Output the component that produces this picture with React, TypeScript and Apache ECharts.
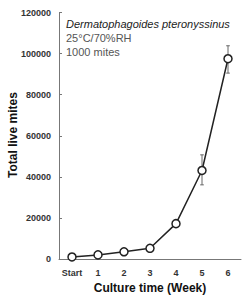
import React, { useEffect, useRef } from "react";
import * as echarts from "echarts";

const categories = ["Start", "1", "2", "3", "4", "5", "6"];
const liveMites = [1000, 2000, 3500, 5200, 17200, 43100, 97500];
const errLow = [null, null, null, null, null, 36100, 90500];
const errHigh = [null, null, null, null, null, 50700, 103800];
const yTicks = [0, 20000, 40000, 60000, 80000, 100000, 120000];
const annotation = ["Dermatophagoides pteronyssinus", "25\u00b0C/70%RH", "1000 mites"];
const yAxisTitle = "Total live mites";
const xAxisTitle = "Culture time (Week)";

const FONT = "'Liberation Sans', Arial, Helvetica, sans-serif";

export default function App() {
  const ref = useRef<HTMLDivElement>(null);
  useEffect(() => {
    if (!ref.current) return;
    const chart = echarts.init(ref.current, undefined, { renderer: "svg" });
    const errData: number[][] = [];
    errLow.forEach((lo, i) => {
      if (lo !== null && errHigh[i] !== null) errData.push([i, lo as number, errHigh[i] as number]);
    });
    chart.setOption({
      animation: false,
      grid: { left: 59, right: 5, top: 12.5, bottom: 41, containLabel: false, outerBoundsMode: "none" },
      textStyle: { fontFamily: FONT },
      xAxis: {
        type: "category",
        data: categories,
        boundaryGap: true,
        name: xAxisTitle,
        nameLocation: "middle",
        nameGap: 20,
        nameTextStyle: { fontFamily: FONT, fontSize: 12, fontWeight: "bold", color: "#111" },
        axisLine: { lineStyle: { color: "#777", width: 1 } },
        axisTick: { inside: true, length: 3, lineStyle: { color: "#777" } },
        axisLabel: { interval: 0, fontFamily: FONT, fontSize: 9, fontWeight: "bold", color: "#333", margin: 9 },
      },
      yAxis: {
        type: "value",
        min: yTicks[0],
        max: yTicks[yTicks.length - 1],
        interval: yTicks[1] - yTicks[0],
        axisLine: { show: true, lineStyle: { color: "#777", width: 1 } },
        axisTick: { show: true, inside: true, length: 3, lineStyle: { color: "#777" } },
        splitLine: { show: false },
        axisLabel: {
          fontFamily: FONT,
          fontSize: 9,
          fontWeight: "bold",
          color: "#333",
          margin: 8,
          formatter: (v: number) => String(v),
        },
      },
      graphic: [
        {
          type: "text",
          x: 13,
          y: 135,
          rotation: Math.PI / 2,
          style: {
            text: yAxisTitle,
            fontFamily: FONT,
            fontSize: 12,
            fontWeight: "bold",
            fill: "#111",
            align: "center",
            verticalAlign: "middle",
          },
        },
        ...annotation.map((t, i) => ({
          type: "text",
          left: 66,
          top: 18 + i * 14,
          style: {
            text: t,
            fontFamily: FONT,
            fontSize: 11,
            fontStyle: i === 0 ? "italic" : "normal",
            fill: i === 0 ? "#222" : "#555",
          },
        })),
      ],
      series: [
        {
          type: "custom",
          z: 2,
          data: errData,
          renderItem: (params: any, api: any) => {
            const x = api.coord([api.value(0), api.value(1)])[0];
            const yLo = api.coord([api.value(0), api.value(1)])[1];
            const yHi = api.coord([api.value(0), api.value(2)])[1];
            const cap = 1.8;
            const style = { stroke: "#666", lineWidth: 1 };
            return {
              type: "group",
              children: [
                { type: "line", shape: { x1: x, y1: yLo, x2: x, y2: yHi }, style },
                { type: "line", shape: { x1: x - cap, y1: yLo, x2: x + cap, y2: yLo }, style },
                { type: "line", shape: { x1: x - cap, y1: yHi, x2: x + cap, y2: yHi }, style },
              ],
            };
          },
        },
        {
          type: "line",
          z: 3,
          data: liveMites,
          symbol: "circle",
          symbolSize: 8,
          lineStyle: { color: "#222", width: 1.5 },
          itemStyle: { color: "#fff", borderColor: "#222", borderWidth: 1.5 },
        },
      ],
    });
    return () => chart.dispose();
  }, []);
  return <div ref={ref} style={{ width: 246, height: 300, position: "absolute", left: 0, top: 0 }} />;
}
